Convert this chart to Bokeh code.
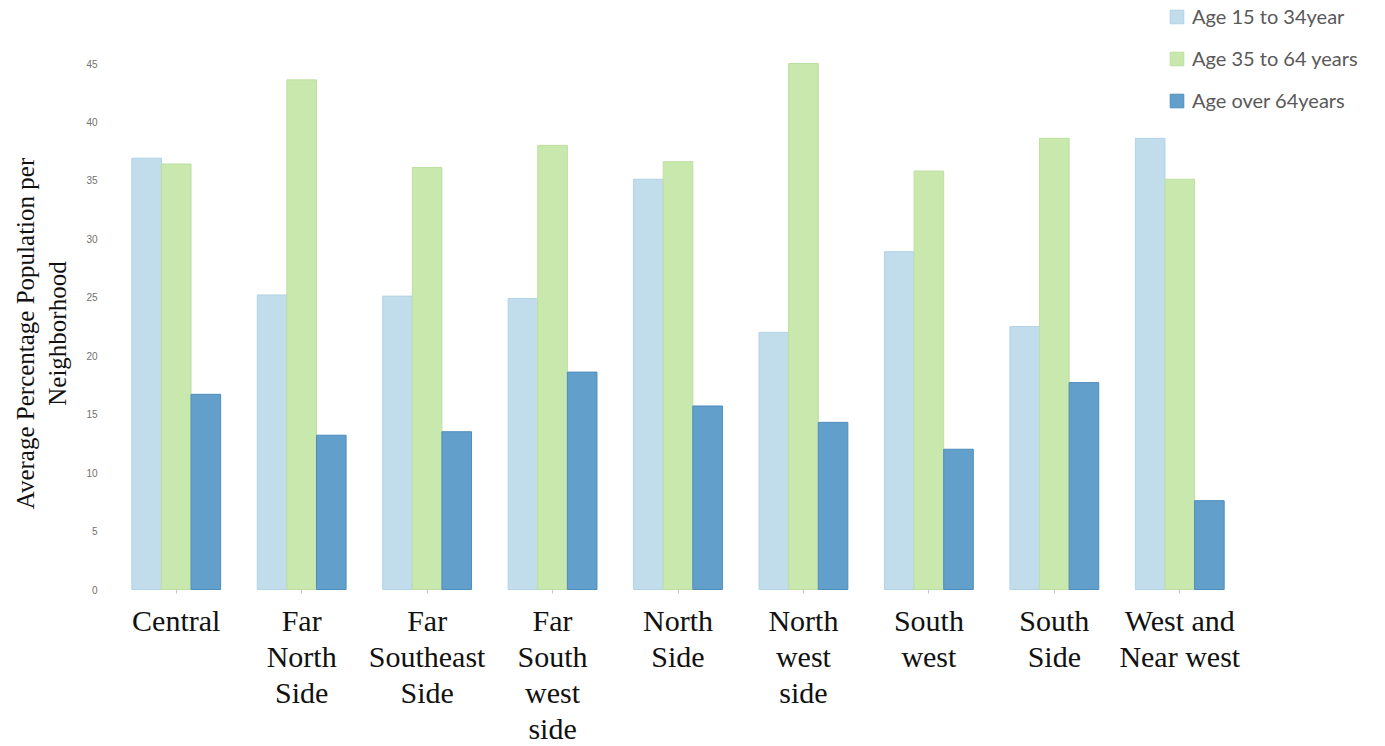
import math
from bokeh.plotting import figure
from bokeh.models import FixedTicker, Legend, LegendItem, Range1d
from bokeh.core.properties import value
from bokeh.embed import file_html
from bokeh.resources import INLINE

# Neighborhood groups and the average share of population in each age band
neighborhoods = [
    "Central",
    "Far\nNorth\nSide",
    "Far\nSoutheast\nSide",
    "Far\nSouth\nwest\nside",
    "North\nSide",
    "North\nwest\nside",
    "South\nwest",
    "South\nSide",
    "West and\nNear west",
]
age_15_34 = [36.9, 25.2, 25.1, 24.9, 35.1, 22.0, 28.9, 22.5, 38.6]
age_35_64 = [36.4, 43.6, 36.1, 38.0, 36.6, 45.0, 35.8, 38.6, 35.1]
age_over_64 = [16.7, 13.2, 13.5, 18.6, 15.7, 14.3, 12.0, 17.7, 7.6]
series_names = ["Age 15 to 34year", "Age 35 to 64 years", "Age over 64years"]
y_ticks = [0, 5, 10, 15, 20, 25, 30, 35, 40, 45]
y_title = "Average Percentage Population per\nNeighborhood"

fills = ["#c1dcea", "#c9e8ad", "#629fcb"]
edges = ["#b3d3e4", "#bddf9e", "#4f8dbd"]

positions = list(range(len(neighborhoods)))
bar_w = 0.236

# The plotting frame spans the whole canvas; both axes are pinned inside it
p = figure(
    width=1385,
    height=746,
    output_backend="svg",
    toolbar_location=None,
    x_range=Range1d(-1.401, 9.64),
    y_range=Range1d(-13.43, 50.39),
    min_border_left=0,
    min_border_right=0,
    min_border_top=0,
    min_border_bottom=0,
)
p.outline_line_color = None
p.xgrid.visible = False
p.ygrid.visible = False
p.background_fill_color = "white"
p.border_fill_color = "white"

renderers = []
for k, (vals, fc, lc) in enumerate(zip([age_15_34, age_35_64, age_over_64], fills, edges)):
    xs = [x + (k - 1) * bar_w for x in positions]
    r = p.vbar(x=xs, top=vals, bottom=0, width=bar_w,
               fill_color=fc, line_color=lc, line_width=1)
    renderers.append(r)

# x axis: neighborhood names under each group, sitting on the zero line
p.xaxis.fixed_location = 0
p.xaxis.ticker = FixedTicker(ticks=positions)
p.xaxis.major_label_overrides = {i: name for i, name in enumerate(neighborhoods)}
p.xaxis.axis_line_color = None
p.xaxis.major_tick_in = 0
p.xaxis.major_tick_out = 4
p.xaxis.major_tick_line_color = "#c8c8c8"
p.xaxis.minor_tick_line_color = None
p.xaxis.major_label_standoff = 10
p.xaxis.major_label_text_font = "Liberation Serif"
p.xaxis.major_label_text_font_size = "30px"
p.xaxis.major_label_text_color = "#111111"
p.xaxis.major_label_text_line_height = 1.1

# y axis: small grey values, no line or ticks
p.yaxis.fixed_location = -0.5
p.yaxis.ticker = FixedTicker(ticks=y_ticks)
p.yaxis.axis_line_color = None
p.yaxis.major_tick_line_color = None
p.yaxis.minor_tick_line_color = None
p.yaxis.major_label_standoff = 10
p.yaxis.major_label_text_font = "Liberation Sans"
p.yaxis.major_label_text_font_size = "10px"
p.yaxis.major_label_text_color = "#707070"

# vertical axis title
p.text(x=[-1.074], y=[21.9], text=[y_title], angle=math.pi / 2,
       text_align="center", text_baseline="middle",
       text_font=value("Liberation Serif"), text_font_size="25px",
       text_color="#111111", text_line_height=1.156)

legend = Legend(
    items=[LegendItem(label=n, renderers=[r]) for n, r in zip(series_names, renderers)],
    location=(1168, 634),
    orientation="vertical",
    glyph_width=17,
    glyph_height=17,
    label_height=17,
    label_standoff=7,
    spacing=18,
    padding=0,
    margin=0,
    border_line_color=None,
    background_fill_alpha=0,
    label_text_font="Lato",
    label_text_font_size="20px",
    label_text_color="#595959",
)
p.add_layout(legend)

open("out.html", "w").write(file_html(p, INLINE))
